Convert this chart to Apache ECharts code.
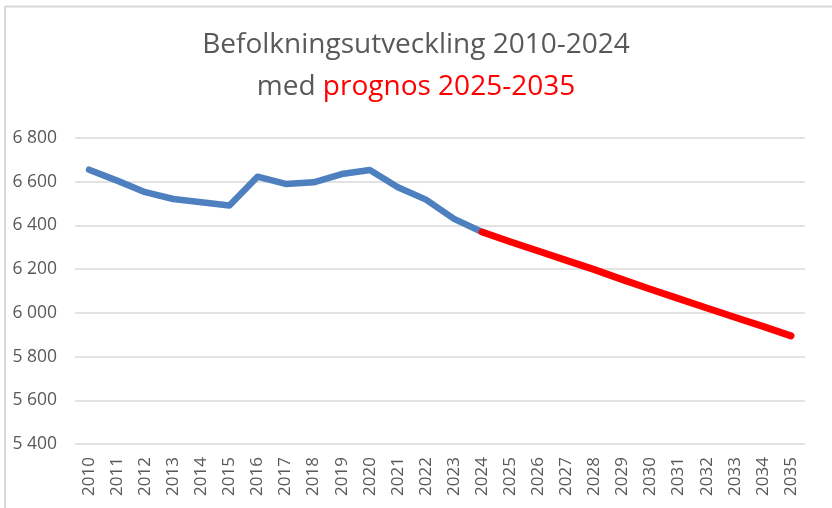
<!DOCTYPE html>
<html>
<head>
<meta charset="utf-8">
<script src="https://cdn.jsdelivr.net/npm/echarts@6/dist/echarts.min.js"></script>
<style>
  html, body { margin: 0; padding: 0; background: #fff; }
  #chart { width: 832px; height: 508px; }
</style>
</head>
<body>
<div id="chart"></div>
<script>
const years = [
  '2010', '2011', '2012', '2013', '2014', '2015', '2016', '2017', '2018',
  '2019', '2020', '2021', '2022', '2023', '2024', '2025', '2026', '2027',
  '2028', '2029', '2030', '2031', '2032', '2033', '2034', '2035'
];

// utfall 2010-2024
const actual = [
  6655, 6605, 6552, 6521, 6506, 6491, 6623, 6590, 6597, 6635, 6654,
  6575, 6518, 6430, 6370
];

// prognos 2024-2035 (startar i 2024 så linjerna möts)
const forecast = [
  6370, 6325, 6283, 6240, 6198, 6152, 6108, 6065, 6022, 5980, 5938, 5895
];

const yTicks = { min: 5400, max: 6800, interval: 200 };

const pad = (arr, before, len) => {
  const out = new Array(before).fill(null).concat(arr);
  while (out.length < len) out.push(null);
  return out;
};

const fontFam = '"Open Sans", "Liberation Sans", sans-serif';
const chart = echarts.init(document.getElementById('chart'), null, { renderer: 'canvas' });

const option = {
  animation: false,
  backgroundColor: '#fff',
  title: {
    left: 'center',
    top: 19,
    text: '{a|Befolkningsutveckling 2010-2024}\n{a|med }{b|prognos 2025-2035}',
    textStyle: {
      fontWeight: 'normal',
      rich: {
        a: { fontFamily: fontFam, fontSize: 28, fontWeight: 'normal', color: '#595959', lineHeight: 42 },
        b: { fontFamily: fontFam, fontSize: 28, fontWeight: 'normal', color: '#ff0000', lineHeight: 42 }
      }
    }
  },
  graphic: [
    { type: 'line', shape: { x1: 5, y1: 6, x2: 5, y2: 508 }, style: { stroke: '#d9d9d9', lineWidth: 2 } },
    { type: 'line', shape: { x1: 5, y1: 6.5, x2: 832, y2: 6.5 }, style: { stroke: '#d9d9d9', lineWidth: 2 } }
  ],
  grid: { left: 75, right: 27, top: 138, bottom: 64 },
  xAxis: {
    type: 'category',
    data: years,
    boundaryGap: true,
    axisLine: { show: false },
    axisTick: { show: false },
    axisLabel: {
      rotate: 90,
      interval: 0,
      margin: 13,
      fontFamily: fontFam,
      fontSize: 17,
      color: '#595959'
    }
  },
  yAxis: {
    type: 'value',
    min: yTicks.min,
    max: yTicks.max,
    interval: yTicks.interval,
    axisLine: { show: false },
    axisTick: { show: false },
    splitLine: { lineStyle: { color: '#d9d9d9', width: 1.5 } },
    axisLabel: {
      margin: 18,
      fontFamily: fontFam,
      fontSize: 17.5,
      color: '#595959',
      formatter: (v) => String(v).replace(/\B(?=(\d{3})+(?!\d))/g, ' ')
    }
  },
  series: [
    {
      type: 'line',
      data: pad(actual, 0, years.length),
      symbol: 'none',
      lineStyle: { color: '#4e80bf', width: 6.5, cap: 'round', join: 'round' },
      z: 2
    },
    {
      type: 'line',
      data: pad(forecast, 14, years.length),
      symbol: 'none',
      lineStyle: { color: '#ff0000', width: 7, cap: 'round', join: 'round' },
      z: 3
    }
  ]
};

chart.setOption(option);
</script>
</body>
</html>
